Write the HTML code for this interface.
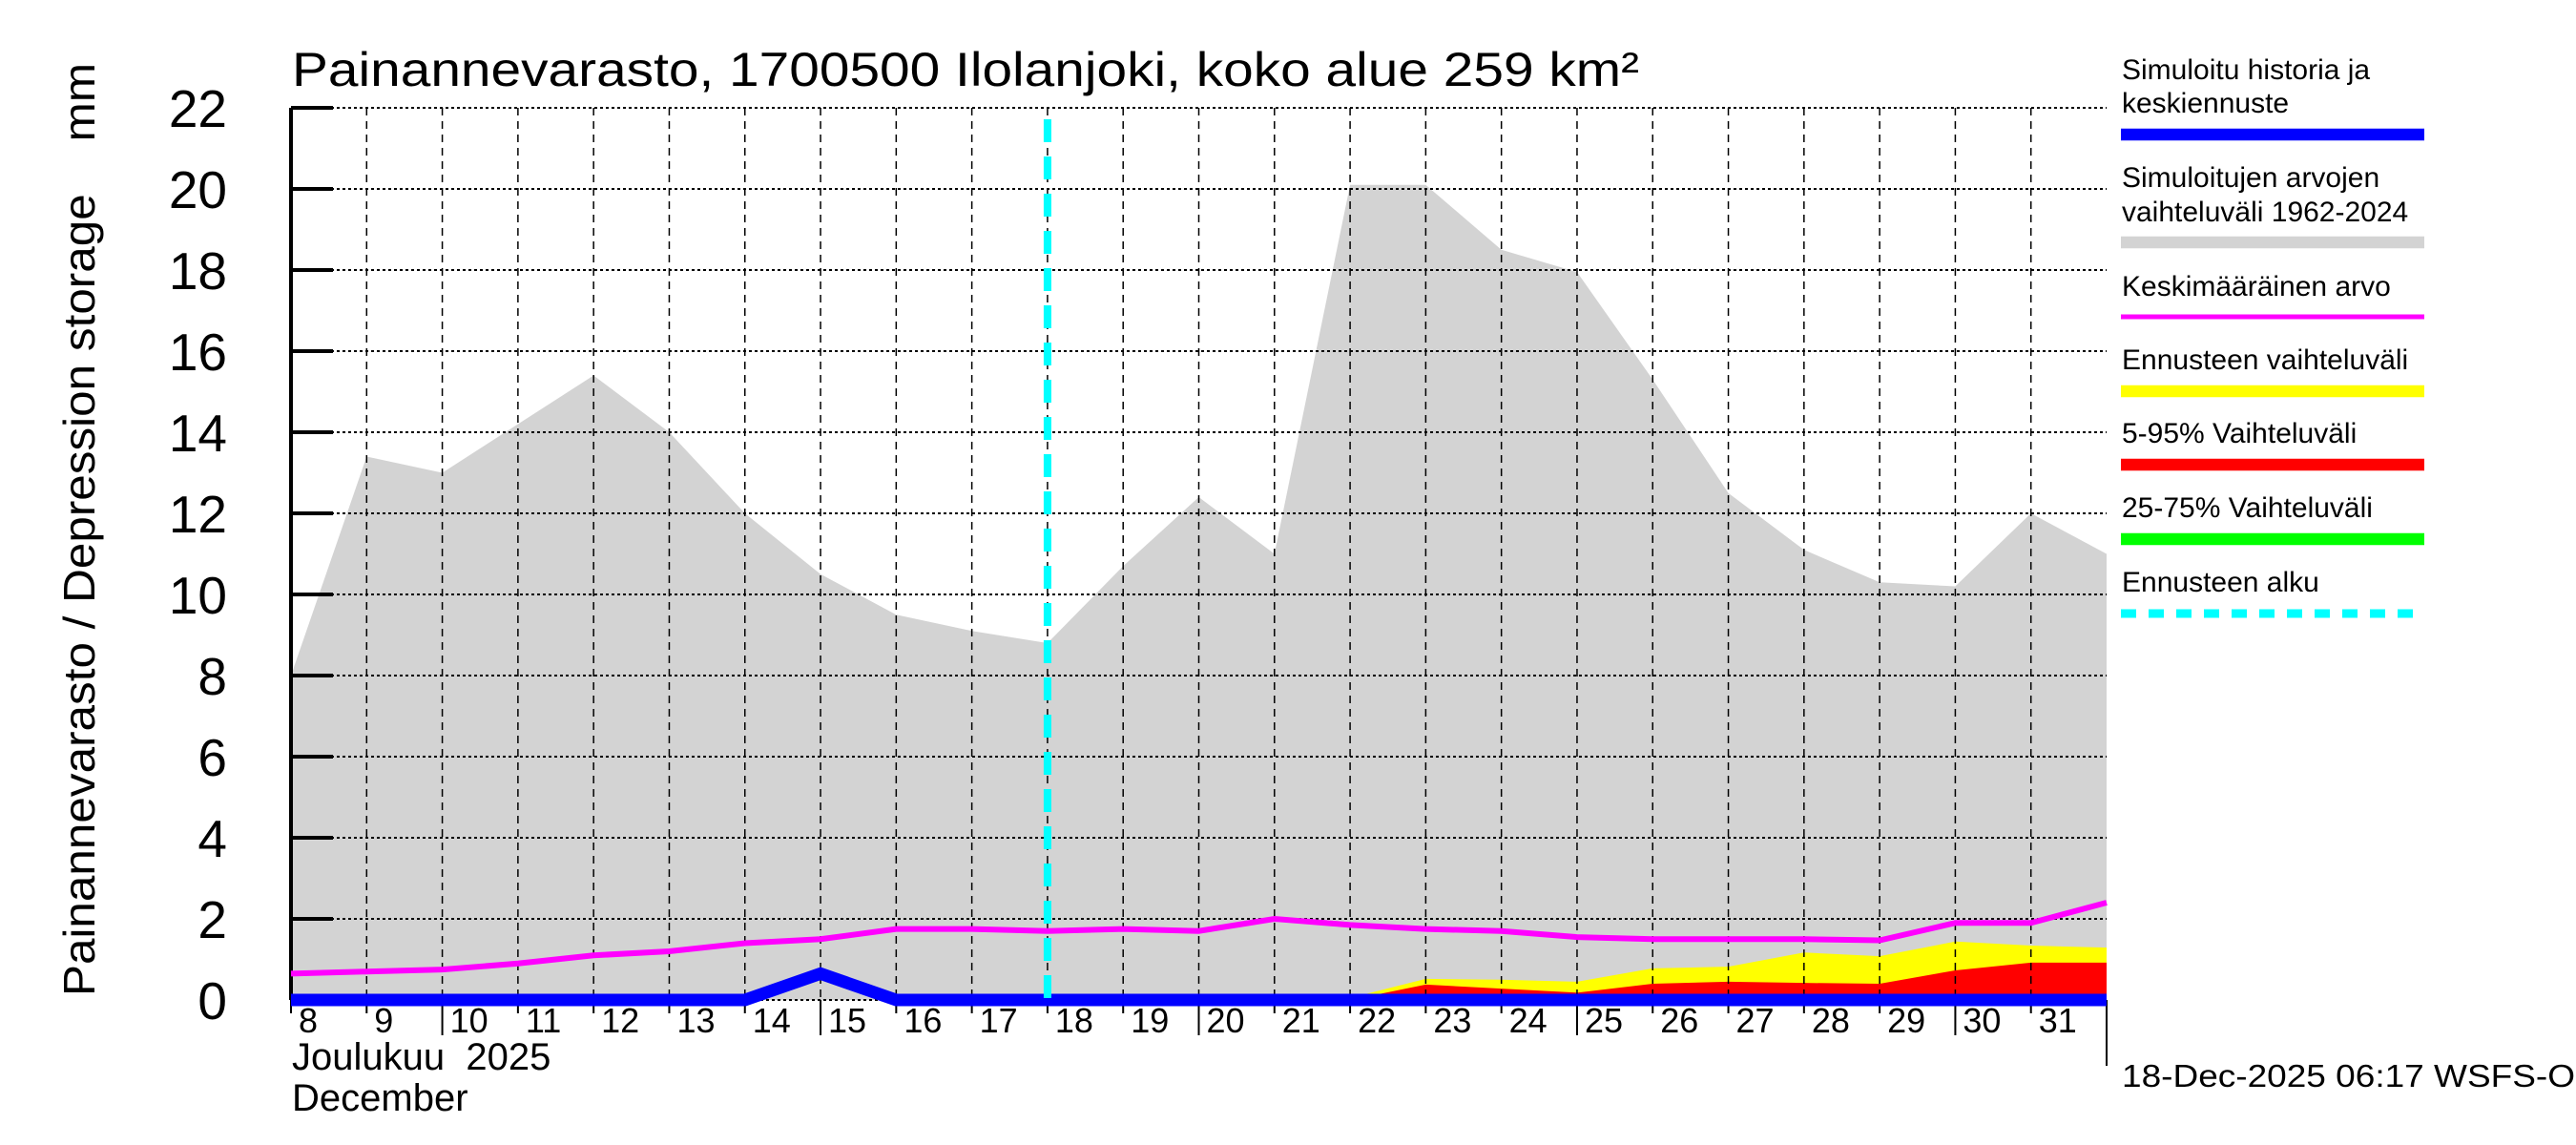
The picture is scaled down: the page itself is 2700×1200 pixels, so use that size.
<!DOCTYPE html>
<html><head><meta charset="utf-8"><style>
html,body{margin:0;padding:0;background:#fff;}
svg{display:block;font-family:"Liberation Sans",sans-serif;}
</style></head><body>
<svg id="chart" width="2700" height="1200" viewBox="0 0 2700 1200" xmlns="http://www.w3.org/2000/svg">
<rect x="0" y="0" width="2700" height="1200" fill="#fff"/>
<text x="306" y="90" font-size="50" textLength="1412" lengthAdjust="spacingAndGlyphs">Painannevarasto, 1700500 Ilolanjoki, koko alue 259 km²</text>
<text transform="translate(99,1044) rotate(-90)" font-size="46" textLength="978" lengthAdjust="spacingAndGlyphs">Painannevarasto / Depression storage&#160;&#160;&#160;&#160;mm</text>
<g id="plot"></g>
<g id="legend"></g>
<text x="2224" y="1139" font-size="33" textLength="475" lengthAdjust="spacingAndGlyphs">18-Dec-2025 06:17 WSFS-O</text>
</svg>
<script>
const days = [8,9,10,11,12,13,14,15,16,17,18,19,20,21,22,23,24,25,26,27,28,29,30,31,32];
const grayMax = [8.0,13.4,13.0,14.2,15.4,14.0,12.0,10.5,9.5,9.1,8.8,10.7,12.4,11.0,20.1,20.1,18.5,17.95,15.3,12.5,11.1,10.3,10.2,12.0,11.0];
const meanVals = [0.65,0.7,0.75,0.9,1.1,1.2,1.4,1.5,1.75,1.75,1.7,1.75,1.7,2.0,1.85,1.75,1.7,1.55,1.5,1.5,1.5,1.47,1.9,1.9,2.4];
const fcDays = [21,22,23,24,25,26,27,28,29,30,31,32];
const yellowTop = [0,0.05,0.52,0.5,0.45,0.78,0.82,1.17,1.08,1.44,1.34,1.29];
const redTop = [0,0,0.38,0.28,0.18,0.4,0.45,0.42,0.4,0.73,0.92,0.92];
const greenTop = [0,0,0,0,0,0,0,0,0,0,0.08,0.08];
const blueVals = [0,0,0,0,0,0,0,0.65,0,0,0,0,0,0,0,0,0,0,0,0,0,0,0,0,0];
const yTicks = [0,2,4,6,8,10,12,14,16,18,20,22];
const xLabels = [8,9,10,11,12,13,14,15,16,17,18,19,20,21,22,23,24,25,26,27,28,29,30,31];
const forecastStart = 18;

const NS="http://www.w3.org/2000/svg";
const X0=305, X1=2208, Y0=1048, PER=42.5;
const xs = d => X0 + (d-8)*(X1-X0)/24;
const ys = v => Y0 - v*PER;
const plot=document.getElementById('plot');
function mk(tag,attrs,parent){const e=document.createElementNS(NS,tag);for(const k in attrs)e.setAttribute(k,attrs[k]);(parent||plot).appendChild(e);return e;}
function area(xd,top,color,name){
  let p=xd.map((d,i)=>xs(d)+','+ys(top[i])).join(' ');
  p+=' '+xs(xd[xd.length-1])+','+ys(0)+' '+xs(xd[0])+','+ys(0);
  const e=mk('polygon',{points:p,fill:color});
  
  
}
area(days,grayMax,'#d3d3d3','historical-range-area');
area(fcDays,yellowTop,'#ffff00','forecast-range-area');
area(fcDays,redTop,'#ff0000','range-5-95-area');
area(fcDays,greenTop,'#00ff00','range-25-75-area');
yTicks.forEach(v=>{
  const l=mk('line',{x1:X0,x2:X1,y1:ys(v),y2:ys(v),stroke:'#000','stroke-width':2,'stroke-dasharray':'3,3'});
  
  
  const t=mk('line',{x1:X0,x2:X0+44,y1:ys(v),y2:ys(v),stroke:'#000','stroke-width':4});
  
  
  const tx=mk('text',{x:238,y:ys(v)+20,'font-size':55,'text-anchor':'end'});
  tx.textContent=v;
  
  
});
for(let d=9; d<=31; d++){
  const l=mk('line',{x1:xs(d),x2:xs(d),y1:ys(22),y2:Y0,stroke:'#000','stroke-width':1.5,'stroke-dasharray':'8,6'});
  
  
}
xLabels.forEach(d=>{
  const long = d%5===0;
  const t=mk('line',{x1:xs(d),x2:xs(d),y1:Y0,y2:long?1085:1062,stroke:'#000','stroke-width':2});
  
  
  const tx=mk('text',{x:xs(d)+8,y:1082,'font-size':36});
  tx.textContent=d;
  
  
});
mk('line',{x1:X0,x2:X0,y1:ys(22),y2:Y0,stroke:'#000','stroke-width':4});
mk('line',{x1:X1,x2:X1,y1:Y0,y2:1117,stroke:'#000','stroke-width':2});
const mean=mk('polyline',{points:days.map((d,i)=>xs(d)+','+ys(meanVals[i])).join(' '),fill:'none',stroke:'#ff00ff','stroke-width':6});


const blue=mk('polyline',{points:days.map((d,i)=>xs(d)+','+ys(blueVals[i])).join(' '),fill:'none',stroke:'#0000ff','stroke-width':13});


const fs=mk('line',{x1:xs(forecastStart),x2:xs(forecastStart),y1:125,y2:Y0,stroke:'#00ffff','stroke-width':8,'stroke-dasharray':'24,15'});


const tl=mk('text',{x:306,y:1121,'font-size':40});
tl.textContent='Joulukuu\u00a0 2025';


const tl2=mk('text',{x:306,y:1164,'font-size':40});
tl2.textContent='December';


const lg=document.getElementById('legend');
const items=[
 [['Simuloitu historia ja','keskiennuste'],[83,118],141,'#0000ff',12.6,null,'legend-simulated-history'],
 [['Simuloitujen arvojen','vaihteluväli 1962-2024'],[196,232],254,'#d3d3d3',12.6,null,'legend-historical-range'],
 [['Keskimääräinen arvo'],[310],332,'#ff00ff',5,null,'legend-mean'],
 [['Ennusteen vaihteluväli'],[387],410,'#ffff00',12.6,null,'legend-forecast-range'],
 [['5-95% Vaihteluväli'],[464],487,'#ff0000',12.6,null,'legend-5-95'],
 [['25-75% Vaihteluväli'],[542],565,'#00ff00',12.6,null,'legend-25-75'],
 [['Ennusteen alku'],[620],643,'#00ffff',9,'16,13','legend-forecast-start']
];
items.forEach(it=>{
  const g=mk('g',{},lg);
  
  
  it[0].forEach((s,i)=>{const t=mk('text',{x:2224,y:it[1][i],'font-size':30},g);t.textContent=s;});
  const a={x1:2223,x2:2541,y1:it[2],y2:it[2],stroke:it[3],'stroke-width':it[4]};
  if(it[5])a['stroke-dasharray']=it[5];
  mk('line',a,g);
});
</script>
</body></html>
